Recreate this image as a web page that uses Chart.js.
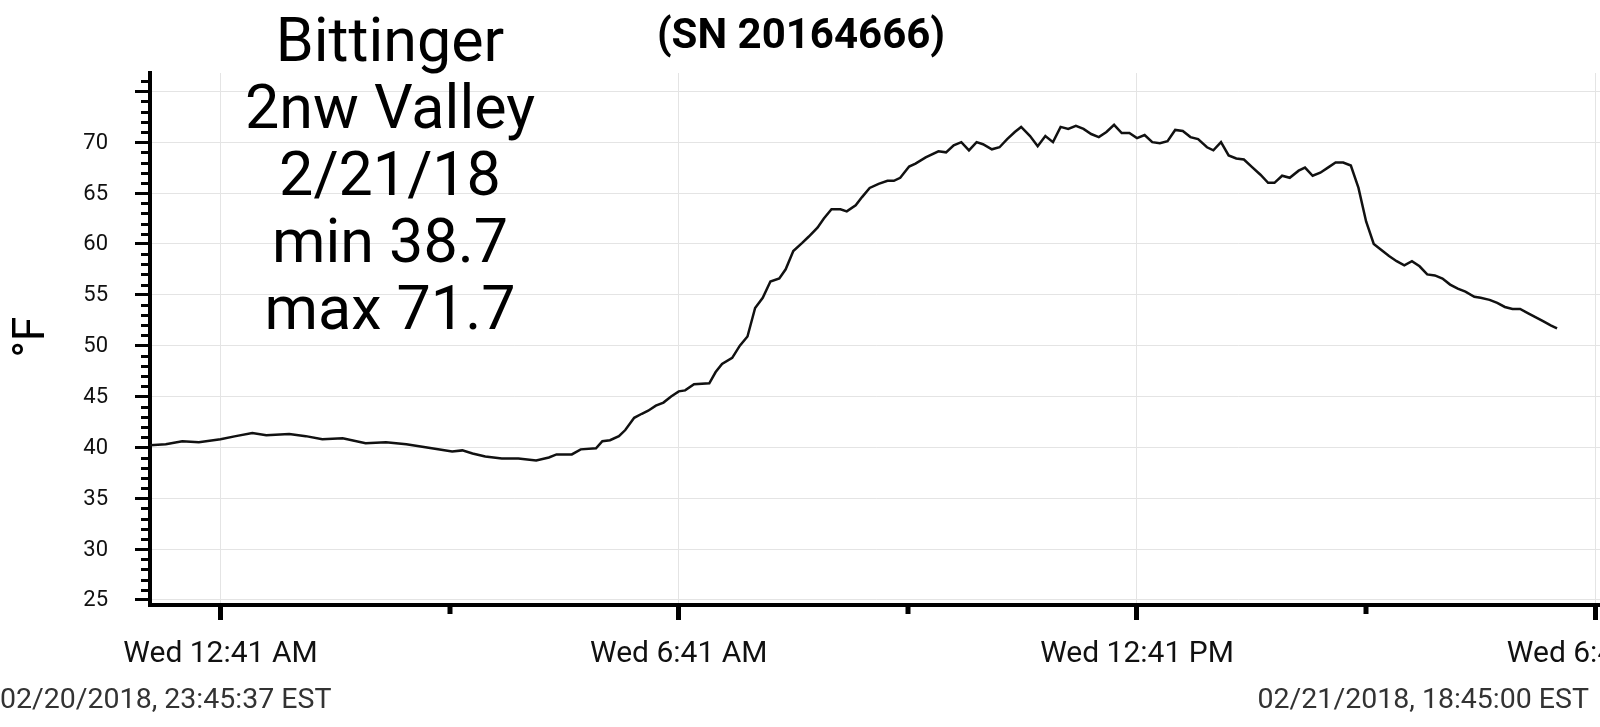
<!DOCTYPE html>
<html>
<head>
<meta charset="utf-8">
<title>Bittinger 2nw Valley</title>
<script src="https://cdn.jsdelivr.net/npm/chart.js@4.4.1/dist/chart.umd.min.js"></script>
<style>
  html, body { margin: 0; padding: 0; background: #fff; overflow: hidden; width: 1600px; height: 727px; }
  #wrap { position: relative; width: 1700px; height: 727px; }
  #myChart { position: absolute; left: 0; top: 0; }
</style>
</head>
<body>
<div id="wrap"><canvas id="myChart" width="1700" height="727"></canvas></div>
<script>
// temps : minutes apres minuit le 21/02 (negatif = le 20 au soir)
const minutes = [
  -14.4, -2, 11, 24, 41, 53, 66, 77, 95, 108, 121, 137, 155, 171, 187, 202,
  223, 231, 239, 249, 262, 275, 289, 299, 305, 317, 324, 336, 341, 347, 354, 359,
  366, 372, 377, 383, 389, 395, 401, 406, 413, 425, 430, 435, 443, 449, 455, 461,
  467, 473, 480, 485, 491, 498, 503, 510, 515, 521, 528, 533, 540, 545, 551, 558,
  565, 570, 575, 582, 587, 595, 605, 611, 617, 623, 629, 635, 640, 647, 653, 659,
  665, 670, 677, 683, 689, 695, 701, 707, 713, 719, 725, 731, 737, 743, 749, 755,
  761, 767, 773, 779, 785, 791, 797, 803, 809, 816, 821, 827, 833, 839, 845, 851,
  858, 864, 869, 875, 881, 888, 893, 899, 905, 911, 917, 923, 929, 935, 941, 947,
  953, 959, 965, 971, 977, 983, 989, 995, 1001, 1007, 1013, 1019, 1026, 1031, 1038, 1044,
  1050, 1056, 1062, 1068, 1074, 1080, 1086, 1091
];
const tempF = [
  40.2, 40.3, 40.6, 40.5, 40.8, 41.1, 41.4, 41.2, 41.3, 41.1, 40.8, 40.9, 40.4, 40.5, 40.3, 40.0,
  39.6, 39.7, 39.4, 39.1, 38.9, 38.9, 38.7, 39.0, 39.3, 39.3, 39.8, 39.9, 40.6, 40.7, 41.1, 41.7,
  42.9, 43.3, 43.6, 44.1, 44.4, 45.0, 45.5, 45.6, 46.2, 46.3, 47.4, 48.2, 48.8, 50.0, 50.9, 53.7,
  54.7, 56.3, 56.6, 57.5, 59.3, 60.1, 60.7, 61.6, 62.5, 63.4, 63.4, 63.2, 63.8, 64.6, 65.5, 65.9,
  66.2, 66.2, 66.5, 67.6, 67.9, 68.5, 69.1, 69.0, 69.7, 70.0, 69.2, 70.0, 69.8, 69.3, 69.5, 70.3,
  71.0, 71.5, 70.6, 69.6, 70.6, 70.0, 71.5, 71.3, 71.6, 71.3, 70.8, 70.5, 71.0, 71.7, 70.9, 70.9,
  70.4, 70.7, 70.0, 69.9, 70.1, 71.2, 71.1, 70.5, 70.3, 69.5, 69.2, 70.0, 68.7, 68.4, 68.3, 67.6,
  66.8, 66.0, 66.0, 66.7, 66.5, 67.2, 67.5, 66.7, 67.0, 67.5, 68.0, 68.0, 67.7, 65.5, 62.2, 60.0,
  59.4, 58.8, 58.3, 57.9, 58.3, 57.8, 57.0, 56.9, 56.6, 56.0, 55.6, 55.3, 54.8, 54.7, 54.5, 54.2,
  53.8, 53.6, 53.6, 53.2, 52.8, 52.4, 52.0, 51.7
];

// axe X : 23:45:37 -> 18:45:00
const xStart = -14.38;
const xEnd = 1125;
const xMajorTicks = [41, 401, 761, 1121];
const xTickLabels = ["Wed 12:41 AM", "Wed 6:41 AM", "Wed 12:41 PM", "Wed 6:41 PM"];
const xMinorTicks = [221, 581, 941];

// axe Y
const yMajorTicks = [25, 30, 35, 40, 45, 50, 55, 60, 65, 70, 75];
const yTickLabels = ["25", "30", "35", "40", "45", "50", "55", "60", "65", "70", ""];
const yMinorTicks = [];
for (let v = 25; v <= 76; v++) {
  if (v % 5 !== 0) yMinorTicks.push(v);
}

// textes
const noteLines = ["Bittinger", "2nw Valley", "2/21/18", "min 38.7", "max 71.7"];
const serial = "(SN 20164666)";
const yTitle = "°F";
const startStamp = "02/20/2018, 23:45:37 EST";
const endStamp = "02/21/2018, 18:45:00 EST";

const points = minutes.map((m, i) => ({ x: m, y: tempF[i] }));

// petits traits, etiquettes Y + textes par dessus
const extras = {
  id: "extras",
  afterDraw(chart) {
    const ctx = chart.ctx;
    const xs = chart.scales.x;
    const ys = chart.scales.y;
    const area = chart.chartArea;
    ctx.save();
    ctx.strokeStyle = "#000";
    ctx.lineWidth = 3;
    yMinorTicks.forEach((v) => {
      const py = Math.round(ys.getPixelForValue(v)) + 0.5;
      ctx.beginPath();
      ctx.moveTo(area.left - 9, py);
      ctx.lineTo(area.left, py);
      ctx.stroke();
    });
    ctx.lineWidth = 5;
    xMinorTicks.forEach((v) => {
      const px = Math.round(xs.getPixelForValue(v));
      ctx.beginPath();
      ctx.moveTo(px, area.bottom);
      ctx.lineTo(px, area.bottom + 9);
      ctx.stroke();
    });

    // etiquettes Y
    ctx.fillStyle = "#111";
    ctx.font = "22px Roboto";
    ctx.textAlign = "right";
    ctx.textBaseline = "middle";
    yMajorTicks.forEach((v, i) => {
      ctx.fillText(yTickLabels[i], area.left - 42, ys.getPixelForValue(v) + 1);
    });

    // titre Y
    ctx.save();
    ctx.translate(33, 337);
    ctx.rotate(-Math.PI / 2);
    ctx.fillStyle = "#000";
    ctx.font = "44px Roboto";
    ctx.textAlign = "center";
    ctx.textBaseline = "middle";
    ctx.fillText(yTitle, 0, 0);
    ctx.restore();

    ctx.fillStyle = "#000";
    ctx.textAlign = "center";
    ctx.textBaseline = "alphabetic";
    ctx.font = "61px Roboto";
    noteLines.forEach((s, i) => ctx.fillText(s, 390, 61 + i * 67));
    ctx.font = "bold 42px Roboto";
    ctx.fillText(serial, 801, 48);

    ctx.fillStyle = "#333";
    ctx.font = "28.5px Roboto";
    ctx.textAlign = "left";
    ctx.fillText(startStamp, 0, 708);
    ctx.textAlign = "right";
    ctx.fillText(endStamp, 1589, 708);
    ctx.restore();
  },
};

const config = {
  type: "line",
  data: {
    datasets: [
      {
        label: "Temperature",
        data: points,
        borderColor: "#111",
        borderWidth: 2.5,
        pointRadius: 0,
        tension: 0,
        fill: false,
      },
    ],
  },
  options: {
    responsive: false,
    animation: false,
    events: [],
    layout: { padding: { top: 73, right: 98, bottom: 42, left: 0 } },
    plugins: { legend: false, tooltip: { enabled: false } },
    scales: {
      x: {
        type: "linear",
        min: xStart,
        max: xEnd,
        afterBuildTicks: (s) => {
          s.ticks = xMajorTicks.map((v) => ({ value: v }));
        },
        afterFit: (s) => {
          s.height = 80;
        },
        ticks: {
          autoSkip: false,
          maxRotation: 0,
          padding: 16,
          color: "#111",
          font: { family: "Roboto", size: 30 },
          callback: (v, i) => xTickLabels[i],
        },
        grid: { color: "#e4e4e4", lineWidth: 1, tickColor: "#000", tickWidth: 5, tickLength: 15 },
        border: { color: "#000", width: 4 },
      },
      y: {
        min: 24.5,
        max: 76.8,
        afterBuildTicks: (s) => {
          s.ticks = yMajorTicks.map((v) => ({ value: v }));
        },
        afterFit: (s) => {
          s.width = 150;
        },
        ticks: { display: false },
        grid: { color: "#e4e4e4", lineWidth: 1, tickColor: "#000", tickWidth: 3, tickLength: 15 },
        border: { color: "#000", width: 4 },
      },
    },
  },
  plugins: [extras],
};

Chart.defaults.font.family = "Roboto";
let context = document.getElementById("myChart").getContext("2d");
let chart = new Chart(context, config);
</script>
</body>
</html>
